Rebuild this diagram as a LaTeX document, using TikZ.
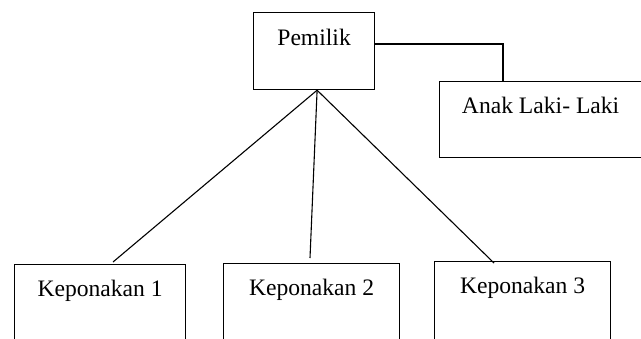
\documentclass[tikz,border=0pt]{standalone}
\usepackage{fontspec}
\setmainfont{Liberation Serif}
\tikzset{
	kotak/.style={draw, rectangle, inner sep=0pt, line width=0.6pt, anchor=north west, text height=16pt, text depth=26pt, font=\fontsize{11.8}{14}\selectfont},
	garis/.style={line width=0.55pt}
}
\begin{document}
\begin{tikzpicture}[x=0.5pt,y=-0.5pt]
			\clip (0,0) rectangle (641,338);
			\node	(pemilik) at (253,12) [kotak, minimum width=60.5pt, text height=16.5pt, text depth=22pt] {Pemilik};
			\node	(anak) at (439,81) [kotak, minimum width=101pt, text depth=22pt] {Anak Laki- Laki};
			\node	(kep1) at (14,264) [kotak, minimum width=85.5pt] {Keponakan 1};
			\node	(kep2) at (223,263) [kotak, minimum width=88pt] {Keponakan 2};
			\node	(kep3) at (434,261) [kotak, minimum width=88pt] {Keponakan 3};
			
			\coordinate (pusat) at ([xshift=1.5pt]pemilik.south);
			\coordinate (belok) at (503,44);
			\coordinate (ujung1) at (113,262);
			\coordinate (ujung2) at (310,258);
			\coordinate (ujung3) at (494,263);
			
			\draw[garis] 
			(pemilik.east |- belok) -- (belok) -- (belok |- anak.north)
			(pusat) edge (ujung1) 
			(pusat) edge (ujung2)
			(pusat) edge (ujung3)
			;
		\end{tikzpicture}
\end{document}
